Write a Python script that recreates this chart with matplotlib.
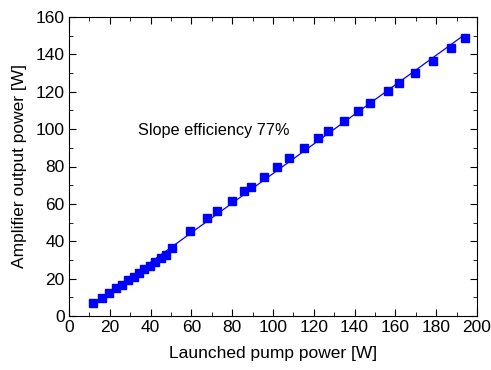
import numpy as np
import matplotlib
matplotlib.use("Agg")
import matplotlib.pyplot as plt
from matplotlib.ticker import MultipleLocator

plt.rcParams['font.family'] = ['Liberation Sans', 'DejaVu Sans']

# launched pump power [W] and amplifier output power [W]
pump = [11.7, 16.1, 19.6, 23.0, 25.9, 28.9, 31.8, 34.2, 36.7, 39.6, 42.0, 45.0,
        47.4, 50.4, 59.2, 67.5, 72.4, 79.7, 85.6, 89.0, 95.4, 102.2, 107.6,
        115.4, 122.2, 127.1, 134.9, 141.8, 147.7, 156.5, 161.9, 169.7, 178.5,
        187.3, 194.1]
output = [7.0, 9.6, 12.3, 15.0, 16.6, 19.3, 20.9, 23.0, 25.1, 26.7, 28.9, 31.0,
          32.6, 36.4, 45.5, 52.4, 56.2, 61.5, 66.9, 69.0, 74.4, 79.7, 84.5,
          89.9, 95.2, 99.0, 104.3, 109.7, 114.0, 120.4, 124.7, 130.0, 136.4,
          143.4, 148.7]

fig = plt.figure(figsize=(4.91, 3.70), dpi=100)
ax = fig.add_axes([0.1405, 0.146, 0.831, 0.808])

# linear fit
k, b = np.polyfit(pump, output, 1)
xf = np.array([min(pump), max(pump)])
ax.plot(xf, k * xf + b, color='#0000ff', lw=0.9)
ax.plot(pump, output, 's', color='#0000ff', ms=5.8, mec='#0000ff')

ax.text(34, 99.5, 'Slope efficiency 77%', fontsize=11.7, va='center')

ax.set_xlim(0, 200)
ax.set_ylim(0, 160)
ax.xaxis.set_major_locator(MultipleLocator(20))
ax.xaxis.set_minor_locator(MultipleLocator(10))
ax.yaxis.set_major_locator(MultipleLocator(20))
ax.yaxis.set_minor_locator(MultipleLocator(10))
ax.tick_params(which='both', direction='in', top=True, right=True, labelsize=12.5)
ax.tick_params(which='major', length=5, pad=3)
ax.tick_params(which='minor', length=3)
ax.set_xlabel('Launched pump power [W]', fontsize=12.5, labelpad=8)
ax.set_ylabel('Amplifier output power [W]', fontsize=12.5, labelpad=6)

fig.savefig('out.png', dpi=100)
